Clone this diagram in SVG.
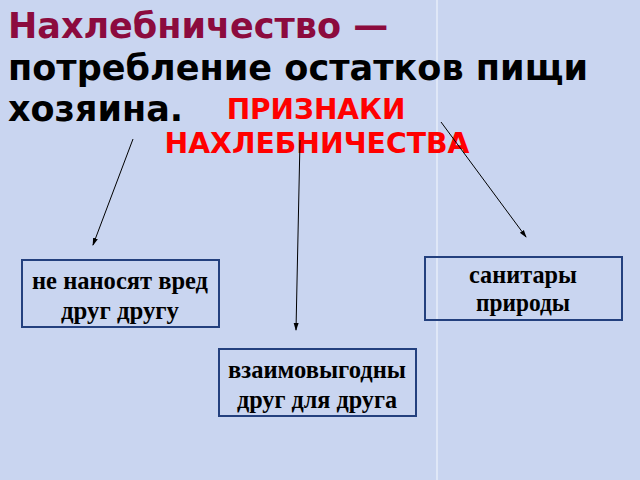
<svg xmlns="http://www.w3.org/2000/svg" width="640" height="480" viewBox="0 0 640 480">
<defs>
<marker id="ah" markerWidth="8" markerHeight="8" refX="7" refY="4" orient="auto" markerUnits="userSpaceOnUse"><path d="M0,1.5 L8,4 L0,6.5 z" fill="#000"/></marker>
</defs>
<style>
.t{font-family:"DejaVu Sans",sans-serif;font-weight:bold;font-size:35px}
.r{font-family:"DejaVu Sans",sans-serif;font-weight:bold;font-size:28px;fill:#ff0000;text-anchor:middle}
.b{fill:none;stroke:#23407e;stroke-width:2}
.n{font-family:"Liberation Serif",serif;font-weight:bold;font-size:25px;text-anchor:middle;fill:#000}
.c{stroke:#000;stroke-width:1;fill:none;marker-end:url(#ah)}
</style>
<rect width="640" height="480" fill="#c9d5f0"/>
<line x1="437" y1="0" x2="437" y2="480" stroke="#e6ecfa" stroke-width="1.5"/>
<text class="t" x="8" y="38" fill="#8c0b3e">Нахлебничество —</text>
<text class="t" x="8" y="80" fill="#000" textLength="580" lengthAdjust="spacingAndGlyphs">потребление остатков пищи</text>
<text class="t" x="8" y="121" fill="#000">хозяина.</text>
<text class="r" x="316" y="119">ПРИЗНАКИ</text>
<text class="r" x="317" y="153" textLength="305" lengthAdjust="spacingAndGlyphs">НАХЛЕБНИЧЕСТВА</text>
<g id="connectors">
<line class="c" x1="133" y1="139" x2="93" y2="245"/>
<line class="c" x1="300" y1="140" x2="296" y2="330"/>
<line class="c" x1="441" y1="122" x2="526" y2="237"/>
</g>
<g id="n1"><rect class="b" x="22" y="260" width="197" height="67"/>
<text class="n" x="120" y="289" textLength="176" lengthAdjust="spacingAndGlyphs">не наносят вред</text>
<text class="n" x="120" y="319" textLength="118" lengthAdjust="spacingAndGlyphs">друг другу</text></g>
<g id="n2"><rect class="b" x="425" y="257" width="197" height="63"/>
<text class="n" x="523" y="283" textLength="108" lengthAdjust="spacingAndGlyphs">санитары</text>
<text class="n" x="523" y="311" textLength="94" lengthAdjust="spacingAndGlyphs">природы</text></g>
<g id="n3"><rect class="b" x="219" y="349" width="197" height="67"/>
<text class="n" x="317" y="378" textLength="178" lengthAdjust="spacingAndGlyphs">взаимовыгодны</text>
<text class="n" x="317" y="408" textLength="160" lengthAdjust="spacingAndGlyphs">друг для друга</text></g>
</svg>
